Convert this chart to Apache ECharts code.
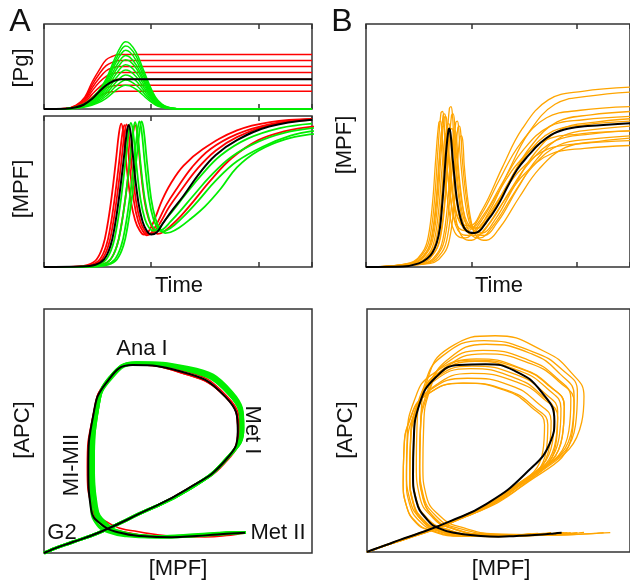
<!DOCTYPE html>
<html><head><meta charset="utf-8">
<script src="https://cdn.jsdelivr.net/npm/echarts@6/dist/echarts.min.js"></script>
<style>html,body{margin:0;padding:0;background:#fff}#c{width:630px;height:586px}</style>
</head><body><div id="c"></div>
<script>
// ---------- Panel A top: [Pg] vs Time ----------
const tPgRed = [0,20,30,38,45,52,58,64,70,250];
const pgRed = [
  [0,0.6,4.5,14,32,47,58,62,64,64],
  [0,0.6,4,12.5,28.5,42,51,55,57,57],
  [0,0.5,3.5,11,25,37,45,48.5,50,50],
  [0,0.4,3,9.5,21.5,32,38.5,41.5,43,43],
  [0,0.4,2.5,7.7,17.5,26,31.5,34,35,35],
  [0,0.3,2,6,14,20.7,25,27,28,28],
  [0,0.2,1.5,4.6,10.5,15.5,19,20.4,21,21]
];
const tPgGreen = [0,20,30,40,50,58,66,72,76,80,86,92,98,104,110,116,124,140,250];
const pgGreen = [
  [0,0.4,2.4,7.9,19.8,35.6,59.3,74.3,79,77,66.5,48.5,29.5,14,5.8,2.1,0.4,0,0],
  [0,0.4,2.2,7.4,18.5,33.3,55.5,69.6,74,72,62,45,27,12.8,5.3,1.9,0.4,0,0],
  [0,0.3,2.1,6.9,17.3,31,51.8,64.9,69,67,57.3,41.4,24.8,11.7,4.8,1.7,0.3,0,0],
  [0,0.3,1.9,6.3,15.8,28.4,47.3,59.2,63,61,52,37.5,22.4,10.5,4.3,1.6,0.3,0,0],
  [0,0.3,1.7,5.8,14.5,26.1,43.5,54.5,58,56.3,48,34.5,20.5,9.7,4,1.5,0.3,0,0],
  [0,0.3,1.6,5.2,13,23.4,39,48.9,52,50.4,43,31,18.5,8.7,3.6,1.3,0.3,0,0],
  [0,0.2,1.4,4.6,11.5,20.7,34.5,43.2,46,44.6,38,27.4,16.4,7.7,3.2,1.2,0.2,0,0],
  [0,0.2,1.2,4,10,18,30,37.6,40,38.8,33,23.8,14.2,6.7,2.8,1,0.2,0,0],
  [0,0.2,1,3.4,8.5,15.3,25.5,32,34,33,28,20.2,12,5.7,2.4,0.9,0.2,0,0],
  [0,0.1,0.8,2.8,7,12.6,21,26.3,28,27.2,23.1,16.7,10,4.7,2,0.7,0.1,0,0]
];
const tPgBlack = [0,20,30,37,45,50,58,65,72,250];
const pgBlack = [0,0.3,2,5,12,18.5,28,33,35,35];

// ---------- Panel A: [time, MPF, APC] per simulated cell ----------
const aBlack = [[0,0,0],[35,0.3,0.1],[48,1.5,0.5],[56,5,1.8],[62,14,4.5],[66,27,8.5],[70,46,16],[74,69,26],[77,88,38],[79,94,50],[81,88,64],[84,66,74.5],[88,43,77],[92,30,69.5],[96,23.8,56],[100,21.5,35],[105,22.8,18],[111,29,11],[119,37,8.3],[130,47,7],[145,62,6.5],[160,74,7],[180,84,7.6],[210,93,8.1],[250,97.5,8.3]];
const aRed = [
  [[0,0,0],[30,0.3,0.1],[41,1.5,0.5],[49,5,1.8],[55,14,4.5],[59,27,8.5],[63,46,16],[67,70,26],[70,89,38],[72,95,50],[74,89,64],[77,67,75],[81,44,77.5],[85,31,70],[89,24.5,57],[93,21.5,36],[98,24,19],[104,33,11.5],[110,44,9],[118,55,7.5],[130,67,6.8],[148,78,6.6],[180,90.5,7.3],[211,96,8],[250,98,8.3]],
  [[0,0,0],[32,0.3,0.1],[44,1.5,0.5],[52,5,1.8],[58,14,4.5],[62,27,8.5],[66,46,16],[70,69,26],[73,88,38],[75,94,50],[77,88,64],[80,66,74],[84,43,77],[88,30,70],[92,24,57],[96,21,35],[101,23.5,18],[107,31,11],[114,41,8.3],[124,52,7],[138,66,6.6],[155,78,7],[180,88,7.6],[210,94.5,8.1],[250,98,8.3]],
  [[0,0,0],[34,0.3,0.1],[46,1.5,0.5],[54,5,1.8],[60,14,4.5],[64,27,8.5],[68,46,16],[72,69,26],[75,88,38],[77,94.5,50],[79,88,64],[82,66,74.5],[86,43,77.2],[90,30,70],[94,24,57],[98,21.5,35],[103,23.5,18],[109,30,11],[117,40,8.3],[128,51,7],[143,65,6.5],[160,77,7],[180,86,7.6],[210,94,8.1],[250,97.5,8.3]],
  [[0,0,0],[40,0.3,0.1],[54,1.5,0.5],[62,5,1.8],[68,14,4.5],[72,27,8.5],[76,46,16],[80,69,26],[83,88,38],[85,94,50],[87,88,64],[90,66,74],[94,43,77],[98,31,70],[102,25,57],[106,22,35],[111,23,18],[118,27,11],[128,34,8.3],[140,44,7],[155,57,6.5],[175,72,7],[200,84,7.6],[225,90,8],[250,93,8.2],[330,98,8.3]]
];
const aGreen = [
  [[0,0,0],[36,0.3,0.1],[50,1.5,0.5],[58,5,1.8],[64,14,4.5],[68,27,8.5],[72,46,16],[76,70,26],[79,89,39],[81,95.5,51],[83,90,65],[86,69,75],[90,45,77.5],[94,32,71],[98,26,59],[102,24,37],[107,25.5,19],[113,31,11.5],[121,38,8.5],[132,48,7.1],[147,61,6.6],[165,74,7.1],[190,85,7.7],[220,92,8.1],[250,95,8.3]],
  [[0,0,0],[40,0.3,0.1],[54,1.5,0.5],[62,5,1.8],[68,14,4.5],[72,27,8.5],[76,46,16],[80,70,26],[83,89,39],[85,96,51],[87,90,65],[90,69,75.5],[94,45,77.8],[98,32,71.5],[102,26,59],[106,24,37],[111,25,19],[118,30,11.5],[127,37,8.5],[139,47,7.1],[155,60,6.6],[175,73,7.1],[200,83,7.7],[225,89,8.1],[250,92,8.3],[330,98,8.4]],
  [[0,0,0],[44,0.3,0.1],[58,1.5,0.5],[66,5,1.8],[72,14,4.5],[76,27,8.5],[80,46,16],[84,70,26],[87,89,39],[89,96.5,51],[91,90.5,65.5],[94,69,75.5],[98,45,78],[102,32,72],[106,26,59],[110,23.5,37],[115,24.5,19],[122,28,11.5],[131,34,8.5],[144,44,7.1],[160,57,6.6],[180,70,7.1],[205,80,7.7],[230,87,8.1],[250,90,8.3],[340,98,8.4]],
  [[0,0,0],[46,0.3,0.1],[60,1.5,0.5],[68,5,1.8],[74,14,4.5],[78,27,8.5],[82,46,16],[86,70,26],[89,89,39],[91,96.5,51.5],[93,91,66],[96,70,76],[100,45,78],[104,32,72],[108,25.5,59],[113,22.5,37],[118,23,19],[126,26,11.5],[137,32,8.5],[150,40,7.1],[165,52,6.6],[180,66,7.1],[200,77,7.7],[225,84.5,8.1],[250,88,8.3],[350,98,8.4]]
];

// ---------- Panel B: [time, MPF, APC] per simulated cell ----------
const bBlack = [[0,0,0],[35,0.2,0.1],[50,1.5,0.8],[58,3.5,1.8],[63,6,3],[67,10,5],[70,16,7.8],[72,25,12.5],[74,36,19.5],[76,48,32],[78,56,46],[79,57,54],[80.5,53,66],[82,45,74.5],[84,36,77.3],[86,28,77],[89,21,72],[93,16,61],[98,14.2,45],[103,14,32],[108,15,21],[114,18.5,13],[120,22,9.7],[127,27,7.8],[134,33,6.8],[143,40,6.3],[153,45.5,6.6],[165,51,7],[178,55,7.4],[192,57,7.6],[210,58,7.8],[250,59.2,7.9]];
const bOrange = [
  [[0,0,0],[41,1.6,0.8],[54,6.4,3],[59,12.6,5.8],[63,26.4,12.8],[66,44.4,25.8],[69,59.4,47.5],[70.5,60,60],[72,55.5,68.2],[73,46.6,75.5],[76,32.2,79],[80,19.7,73],[84,14.3,62],[89,12.2,46.4],[94,12,33],[99,13,21.7],[105,16.4,13.4],[112,20.8,9.8],[125,30.5,7],[144,42.8,6.8],[169,52,7.4],[201,54.7,7.8],[250,56,8]],
  [[0,0,0],[43,1.7,0.9],[56,6.8,3.4],[61,13.4,6.6],[65,28.2,14.2],[68,47.4,28.4],[71,63.4,52],[72.5,64,66],[74,59.4,75],[75,50.3,82.5],[78,35.6,87],[82,22.8,80.5],[86,17.3,68],[91,15.2,51],[96,15,36],[101,16,23],[107,20.1,14],[114,25.2,10],[127,36.4,7.2],[146,50.7,6.8],[171,61.4,7.5],[203,64.5,7.9],[250,66,8.1]],
  [[0,0,0],[44,1.6,0.8],[57,6.1,2.9],[62,12.2,5.5],[66,25.5,12],[69,42.9,23.9],[72,57.4,44],[73.5,58,55.4],[75,53.8,63],[76,45.4,70],[79,31.9,73.5],[83,20.2,68],[87,15.1,57.5],[92,13.2,43],[97,13,30.6],[102,14,20],[108,16.9,12.6],[115,20.8,9.3],[128,29.4,6.7],[147,40.3,6.5],[172,48.5,7.2],[204,50.8,7.6],[250,52,7.7]],
  [[0,0,0],[46,1.7,0.9],[59,6.6,3.3],[64,13,6.3],[68,27.3,13.6],[71,45.9,27.1],[74,61.4,49.9],[75.5,62,62.9],[77,57.7,71.6],[78,49.1,79],[81,35.3,83],[85,23.4,77],[89,18.2,65.5],[94,16.2,48.8],[99,16,34.7],[104,17,22.8],[110,20.6,13.8],[117,25.2,10],[130,35.3,7.1],[149,48.2,6.8],[174,57.9,7.5],[206,60.6,7.8],[250,62,8]],
  [[0,0,0],[47,1.5,0.7],[60,5.8,2.7],[65,11.6,5.2],[69,24.2,11.3],[72,40.7,22.6],[75,54.5,41.5],[76.5,55,52.4],[78,50.9,59.6],[79,42.7,66.5],[82,29.5,69.5],[86,18,64.5],[90,13.1,54.5],[95,11.2,40.6],[100,11,28.9],[105,12,19],[111,14.9,12],[118,18.8,9],[131,27.4,6.5],[150,38.3,6.3],[175,46.5,7],[207,48.8,7.4],[250,50,7.5]],
  [[0,0,0],[49,1.6,0.8],[62,6.3,3],[67,12.4,5.9],[71,26,12.7],[74,43.7,25.5],[77,58.4,46.9],[78.5,59,59.1],[80,54.8,67.3],[81,46.4,74.5],[84,32.9,78.5],[88,21.2,72.5],[92,16.1,61.5],[97,14.2,45.9],[102,14,32.6],[107,15,21.4],[113,18.6,13.2],[120,23.2,9.7],[133,33.3,6.9],[152,46.2,6.7],[177,55.9,7.5],[209,58.6,7.9],[250,60,8]],
  [[0,0,0],[51,1.8,0.9],[64,7,3.5],[69,13.9,6.7],[73,29,14.5],[76,48.8,29],[79,65.3,53.4],[80.5,66,64],[82,62,74],[83,54,82.5],[86,39,89],[90,25,84],[94,18.4,71],[99,16.3,52.2],[104,16,37.2],[109,17,24],[115,21.6,14],[122,27.2,10],[135,39.5,7.2],[154,55.2,6.9],[179,67,7.5],[211,70.3,7.8],[250,72,8]],
  [[0,0,0],[52,1.5,0.8],[65,6.1,2.9],[70,12,5.7],[74,25.1,12.3],[77,42.2,24.5],[80,56.4,45.1],[81.5,57,56.9],[83,52.9,64.8],[84,44.7,71.8],[87,31.5,75.5],[91,20,70],[95,15.1,59],[100,13.2,44.1],[105,13,31.4],[110,14,20.6],[116,17.3,12.8],[123,21.6,9.3],[136,31.1,6.7],[155,43.1,6.5],[180,52.1,7.3],[212,54.7,7.7],[250,56,7.8]],
  [[0,0,0],[53,1.7,0.8],[66,6.7,3.2],[71,13.2,6.1],[75,27.7,13.2],[78,46.6,26.5],[81,62.4,48.7],[82.5,63,61.4],[84,58.6,69.9],[85,49.8,77.5],[88,35.7,81.5],[92,23.5,75.5],[96,18.2,64],[101,16.2,47.6],[106,16,33.9],[111,17,22.2],[117,20.8,13.8],[124,25.6,10],[137,36.2,7.1],[156,49.6,6.8],[181,59.7,7.5],[213,62.6,7.8],[250,64,8]],
  [[0,0,0],[55,1.5,0.7],[68,5.9,2.8],[73,11.8,5.4],[77,24.6,11.6],[80,41.4,23.2],[83,55.4,42.7],[84.5,56,53.9],[86,51.9,61.3],[87,43.7,68.5],[90,30.5,71.5],[94,19,66.5],[98,14.1,56],[103,12.2,41.8],[108,12,29.7],[113,13,19.5],[119,16.2,12.4],[126,20.4,9.1],[139,29.6,6.6],[158,41.4,6.4],[183,50.2,7.1],[215,52.7,7.5],[250,54,7.6]],
  [[0,0,0],[57,1.6,0.8],[70,6.4,3.1],[75,12.6,6],[79,26.4,12.9],[82,44.4,25.8],[85,59.4,47.5],[86.5,60,59.9],[88,55.7,68.2],[89,47.1,75.5],[92,33.3,79.5],[96,21.4,73.5],[100,16.2,62.5],[105,14.2,46.4],[110,14,33],[115,15,21.7],[121,18.7,13.4],[128,23.4,9.8],[141,33.7,7],[160,46.9,6.8],[185,56.8,7.6],[217,59.6,7.9],[250,61,8]],
  [[0,0,0],[59,1.6,0.8],[72,6.1,3],[77,12.2,5.8],[81,25.5,12.4],[84,42.9,24.8],[87,57.4,45.7],[88.5,58,57.7],[90,53.8,65.6],[91,45.4,73],[94,31.9,76.5],[98,20.2,71],[102,15.1,60],[107,13.2,44.7],[112,13,31.8],[117,14,20.9],[123,17.5,12.9],[130,22,9.4],[143,31.9,6.8],[162,44.5,6.6],[187,54,7.4],[219,56.7,7.7],[250,58,7.8]],
  [[0,0,0],[61,1.5,0.7],[74,5.7,2.7],[79,11.3,5.2],[83,23.8,11.3],[86,40,22.6],[89,53.5,41.5],[90.5,54,52.4],[92,50,59.6],[93,42,66.5],[96,29,69.5],[100,17.9,64.5],[104,13,54.5],[109,11.2,40.6],[114,11,28.9],[119,12,19],[125,15.2,12],[132,19.4,9],[145,28.6,6.5],[164,40.4,6.3],[189,49.2,7],[221,51.7,7.4],[250,53,7.5]],
  [[0,0,0],[45,1.7,0.9],[58,6.7,3.3],[63,13.2,6.4],[67,27.7,13.9],[70,46.6,27.8],[73,62.4,51.1],[74.5,63,64.4],[76,58.7,73.3],[77,50.1,81.5],[80,36.3,85.5],[84,24.4,79],[88,19.2,67],[93,17.2,50],[98,17,35.5],[103,18,23.3],[109,22.7,14.2],[116,28.4,10.3],[129,40.9,7.3],[148,56.9,7],[173,68.9,7.6],[205,72.3,7.9],[250,74,8]]
];

const RED = '#ff0000', GREEN = '#00ee00', ORANGE = '#ffa500', BLACK = '#000000';
const FONT = '"Liberation Sans", Arial, Helvetica, sans-serif';

function ts(xi, yi, data, color, w) {
  return {type:'line', xAxisIndex:xi, yAxisIndex:yi, data:data, showSymbol:false, symbol:'none',
    smooth:0.4, clip:true, lineStyle:{color:color, width:w}, silent:true, animation:false};
}
function ph(xi, yi, data, color, w) {
  return {type:'line', xAxisIndex:xi, yAxisIndex:yi, data:data, showSymbol:false, symbol:'none',
    smooth:0.5, clip:true, lineStyle:{color:color, width:w}, silent:true, animation:false};
}
const zip = (t, v) => t.map((x, i) => [x, v[i]]);
const timeMpf = c => c.map(p => [p[0], p[1]]);
const phase = c => c.map(p => [p[1], p[2]]);

const series = [];
// A top (grid 0: x 0, y 0)
pgRed.forEach(v => series.push(ts(0, 0, zip(tPgRed, v), RED, 1.5)));
pgGreen.forEach(v => series.push(ts(0, 0, zip(tPgGreen, v), GREEN, 1.5)));
series.push(ts(0, 0, zip(tPgBlack, pgBlack), BLACK, 2));
// A middle (grid 1: x 2, y 1)
aRed.forEach(c => series.push(ts(2, 1, timeMpf(c), RED, 1.8)));
aGreen.forEach(c => series.push(ts(2, 1, timeMpf(c), GREEN, 1.8)));
series.push(ts(2, 1, timeMpf(aBlack), BLACK, 2));
// A phase (grid 2: x 4, y 2)
aRed.forEach(c => series.push(ph(4, 2, phase(c), RED, 1.5)));
aGreen.forEach(c => series.push(ph(4, 2, phase(c), GREEN, 3)));
series.push(ph(4, 2, phase(aBlack), BLACK, 2));
// B top (grid 3: x 5, y 3)
bOrange.forEach(c => series.push(ts(5, 3, timeMpf(c), ORANGE, 1.3)));
series.push(ts(5, 3, timeMpf(bBlack), BLACK, 2));
// B phase (grid 4: x 7, y 4)
bOrange.forEach(c => series.push(ph(7, 4, phase(c), ORANGE, 1.3)));
series.push(ph(7, 4, phase(bBlack), BLACK, 2));

const gridStyle = {show:true, borderColor:'#333', borderWidth:1.5, backgroundColor:'rgba(0,0,0,0)'};
const grids = [
  Object.assign({left:44, top:24, width:268, height:85}, gridStyle),
  Object.assign({left:44, top:116, width:268, height:151}, gridStyle),
  Object.assign({left:44, top:309, width:268, height:244}, gridStyle),
  Object.assign({left:366, top:24, width:268, height:243}, gridStyle),
  Object.assign({left:367, top:309, width:268, height:243}, gridStyle)
];
function timeAxis(g, pos) {
  return {type:'value', gridIndex:g, position:pos, min:0, max:250, interval:100,
    axisLine:{show:false}, axisLabel:{show:false}, splitLine:{show:false},
    axisTick:{show:true, inside:true, length:5, lineStyle:{color:'#333', width:1.5}}};
}
function plainAxis(g, max) {
  return {type:'value', gridIndex:g, min:0, max:max,
    axisLine:{show:false}, axisLabel:{show:false}, splitLine:{show:false}, axisTick:{show:false}};
}
const xAxes = [timeAxis(0,'bottom'), timeAxis(0,'top'), timeAxis(1,'bottom'), timeAxis(1,'top'),
  plainAxis(2,130), timeAxis(3,'bottom'), timeAxis(3,'top'), plainAxis(4,80)];
const yAxes = [plainAxis(0,100), plainAxis(1,100), plainAxis(2,100), plainAxis(3,100), plainAxis(4,100)];

function txt(s, x, y, size, rot) {
  return {type:'text', x:x, y:y, rotation:rot || 0, z:100,
    style:{text:s, font:size + 'px ' + FONT, fill:'#111', textAlign:'center', textVerticalAlign:'middle', align:'center', verticalAlign:'middle'}};
}
const R = Math.PI / 2;
const graphics = [
  txt('A', 20, 22, 32), txt('B', 342, 22, 32),
  txt('[Pg]', 22, 68, 22, R), txt('[MPF]', 22, 189, 22, R), txt('Time', 179, 286, 22),
  txt('[MPF]', 345, 145, 22, R), txt('Time', 499, 286, 22),
  txt('[APC]', 23, 430, 22, R), txt('[MPF]', 178, 569, 22),
  txt('[APC]', 346, 430, 22, R), txt('[MPF]', 501, 569, 22),
  txt('Ana I', 142, 349, 22), txt('Met I', 252, 430, 22, -R), txt('MI-MII', 72, 465, 22, R),
  txt('G2', 62, 533, 22), txt('Met II', 278, 533, 22)
];

const chart = echarts.init(document.getElementById('c'), null, {renderer:'canvas'});
chart.setOption({animation:false, grid:grids, xAxis:xAxes, yAxis:yAxes, series:series, graphic:{elements:graphics}});
</script></body></html>
